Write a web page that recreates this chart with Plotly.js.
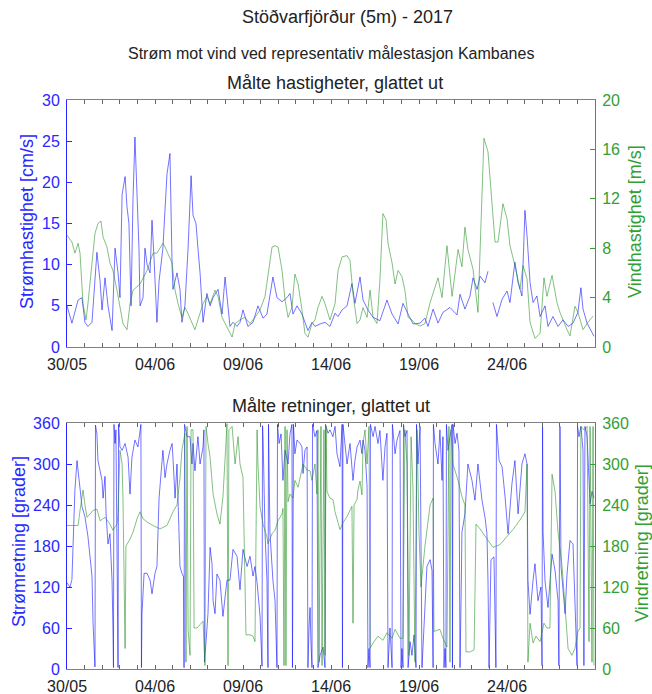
<!DOCTYPE html>
<html><head><meta charset="utf-8">
<script src="https://cdn.plot.ly/plotly-3.0.1.min.js"></script>
<style>html,body{margin:0;padding:0;background:#fff}</style>
</head><body><div id="chart" style="width:652px;height:694px"></div>
<script>
// time axis: days since 30/05/2017 00:00
const labelDays = [0,5,10,15,20,25];
const labelText = ['30/05','04/06','09/06','14/06','19/06','24/06'];
const nDays = 30;

// Current speed [cm/s]
const curSpdDay = [0.00,0.28,0.63,0.85,1.02,1.19,1.42,1.70,1.88,1.99,2.16,2.33,2.56,2.73,2.90,3.01,3.13,3.30,3.41,3.52,3.64,3.75,3.86,3.98,4.09,4.15,4.32,4.43,4.55,4.72,4.83,4.94,5.11,5.23,5.45,5.68,5.85,5.97,6.02,6.25,6.42,6.53,6.70,6.88,7.05,7.16,7.33,7.44,7.56,7.73,7.95,8.13,8.30,8.58,8.81,8.98,9.09,9.26,9.43,9.66,9.83,10.00,10.28,10.57,10.85,11.14,11.36,11.53,11.70,11.93,12.22,12.50,12.67,12.84,13.07,13.35,13.52,13.69,13.92,14.09,14.38,14.66,14.94,15.23,15.40,15.63,15.91,16.19,16.36,16.65,16.82,17.10,17.39,17.78,18.18,18.47,18.81,19.09,19.38,19.66,20.06,20.34,20.51,20.80,21.08,21.36,21.76,22.16,22.33,22.61,22.90,23.07,23.30,23.47,23.75,23.92,24.05,24.20,24.43,24.72,25.00,25.17,25.45,25.63,25.85,26.02,26.14,26.31,26.48,26.70,26.88,27.16,27.33,27.61,27.90,28.18,28.47,28.75,29.03,29.20,29.32,29.55,29.83,29.94];
const curSpd = [5.0,2.9,5.7,6.0,3.0,2.5,3.0,11.5,8.0,4.5,8.4,5.0,2.0,12.0,9.0,6.0,18.5,20.7,17.0,15.0,5.0,18.0,25.5,18.0,12.0,5.0,6.0,12.0,10.0,9.0,15.4,11.0,3.0,8.0,12.0,21.0,23.5,10.0,7.0,9.0,7.0,3.0,5.0,12.0,20.8,16.0,15.0,12.0,9.0,3.0,6.5,5.0,6.0,7.0,4.0,8.5,6.0,2.5,3.0,2.5,3.0,4.5,2.5,3.0,5.0,3.5,4.0,6.5,8.5,6.0,5.5,6.0,6.5,4.0,5.0,4.0,3.0,2.0,3.0,2.5,2.8,3.0,2.5,4.1,3.7,4.5,5.0,7.7,5.3,8.5,5.7,4.5,3.6,3.2,5.7,4.0,2.8,5.3,4.0,2.8,2.9,3.5,2.5,4.6,2.9,4.2,4.8,3.9,6.4,4.6,6.2,8.4,7.0,8.6,7.8,9.2,null,5.4,3.7,5.8,6.8,5.4,10.3,7.8,6.2,16.6,13.5,7.8,5.4,6.2,3.7,5.0,2.5,3.7,2.5,3.3,2.5,2.9,4.2,7.2,4.6,2.9,1.7,1.3];

// Wind speed [m/s]
const windSpdDay = [0.00,0.28,0.45,0.63,0.74,0.91,1.08,1.19,1.42,1.59,1.76,1.93,2.05,2.27,2.44,2.61,2.84,3.01,3.18,3.41,3.58,3.75,4.15,4.55,4.72,4.89,5.11,5.28,5.45,5.57,5.74,5.97,6.14,6.31,6.53,6.70,6.88,7.10,7.27,7.44,7.73,7.95,8.13,8.41,8.58,8.81,9.09,9.38,9.55,9.83,10.11,10.40,10.68,10.97,11.25,11.42,11.65,11.82,11.99,12.22,12.39,12.56,12.78,12.95,13.13,13.35,13.52,13.69,13.92,14.09,14.26,14.49,14.66,14.94,15.23,15.40,15.63,15.91,16.08,16.25,16.48,16.65,16.82,17.05,17.22,17.39,17.61,17.78,17.95,18.13,18.24,18.47,18.64,18.81,19.03,19.20,19.38,19.60,19.77,20.06,20.34,20.63,21.08,21.31,21.59,21.88,22.22,22.44,22.61,22.78,23.07,23.35,23.58,23.69,23.92,24.15,24.32,24.49,24.77,25.00,25.17,25.45,25.74,25.91,26.14,26.31,26.59,26.88,27.10,27.27,27.56,27.84,28.01,28.41,28.58,28.86,29.03,29.32,29.60,29.89];
const windSpd = [9.05,8.5,7.6,8.4,7.6,3.5,2.2,3.5,6.8,9.2,10.0,10.2,8.9,8.1,6.8,6.2,4.6,3.2,1.9,1.4,3.5,4.6,5.1,6.2,7.0,7.6,7.6,8.0,8.4,8.1,7.6,6.8,4.6,3.5,2.4,3.2,2.7,1.9,1.4,2.2,3.5,4.1,3.5,4.6,4.1,2.4,1.6,0.8,1.9,2.2,2.4,1.9,2.4,3.0,4.1,5.7,8.1,8.2,8.1,6.2,3.8,2.4,3.2,5.9,5.1,3.0,1.1,0.8,1.9,2.2,3.2,4.1,3.5,2.2,3.5,6.2,7.3,7.4,7.0,4.3,1.9,2.2,3.2,2.4,4.6,2.4,1.9,5.4,10.8,10.3,8.4,6.8,5.1,6.2,5.7,4.6,2.4,2.2,1.9,1.7,1.9,3.6,5.6,4.0,8.2,4.1,7.9,6.5,9.7,7.9,6.3,2.8,12.3,16.9,15.8,11.7,8.5,8.5,11.6,10.4,8.2,6.6,4.7,6.6,5.5,2.0,0.7,1.1,5.6,4.1,5.8,3.6,2.8,1.4,0.9,3.3,2.8,1.4,2.0,2.5];

// Current direction [grader]
const curDirDay = [0.00,0.17,0.28,0.45,0.57,0.74,0.85,1.02,1.19,1.42,1.48,1.59,1.62,1.70,1.76,1.88,1.99,2.05,2.16,2.22,2.27,2.33,2.44,2.50,2.56,2.61,2.64,2.67,2.73,2.78,2.84,2.90,2.93,3.01,3.13,3.30,3.47,3.58,3.69,3.86,4.03,4.15,4.20,4.23,4.26,4.38,4.55,4.72,4.83,5.00,5.11,5.23,5.40,5.45,5.57,5.68,5.85,5.97,6.02,6.14,6.25,6.42,6.53,6.62,6.65,6.68,6.82,6.99,7.10,7.16,7.27,7.39,7.44,7.56,7.73,7.78,7.81,7.90,8.01,8.13,8.24,8.30,8.41,8.52,8.69,8.86,9.09,9.26,9.43,9.66,9.83,10.00,10.23,10.40,10.57,10.68,10.80,10.97,11.08,11.11,11.14,11.25,11.36,11.42,11.45,11.53,11.65,11.70,11.82,11.93,11.96,12.05,12.16,12.27,12.39,12.56,12.67,12.78,12.81,12.87,12.95,13.07,13.24,13.35,13.41,13.52,13.64,13.69,13.75,13.81,13.86,13.92,13.95,14.09,14.20,14.26,14.38,14.55,14.66,14.69,14.83,14.94,15.11,15.23,15.34,15.51,15.63,15.65,15.68,15.80,15.91,16.08,16.25,16.36,16.48,16.65,16.76,16.82,16.93,17.05,17.10,17.16,17.22,17.24,17.39,17.50,17.67,17.78,17.95,18.07,18.18,18.24,18.35,18.47,18.49,18.64,18.75,18.92,18.98,19.03,19.09,19.12,19.20,19.32,19.38,19.49,19.60,19.72,19.83,19.86,19.94,20.06,20.17,20.28,20.45,20.63,20.74,20.80,20.82,20.91,21.08,21.19,21.31,21.36,21.42,21.48,21.53,21.56,21.65,21.76,21.88,21.90,21.93,22.05,22.16,22.27,22.33,22.39,22.44,22.61,22.78,23.01,23.18,23.35,23.58,23.75,23.86,23.92,23.98,24.09,24.26,24.37,24.40,24.55,24.72,24.89,25.06,25.28,25.45,25.63,25.85,26.02,26.14,26.19,26.31,26.48,26.59,26.76,26.93,26.99,27.02,27.05,27.16,27.33,27.56,27.73,27.90,27.95,28.01,28.07,28.18,28.30,28.41,28.58,28.75,28.86,28.98,29.01,29.09,29.20,29.32,29.37,29.43,29.55,29.72,29.83,29.94];
const curDir = [126,120,131,262,305,262,238,223,194,136,67,3,357,344,305,290,276,250,282,227,203,183,198,159,129,60,2,358,330,350,178,2,358,325,320,330,310,256,310,335,325,350,358,2,81,140,140,130,110,140,150,250,310,320,280,300,320,330,310,250,300,150,140,135,2,358,340,340,300,330,290,320,340,300,325,350,10,40,81,178,154,100,81,139,130,77,130,130,175,165,116,175,150,165,136,150,126,77,4,356,340,200,130,2,358,200,150,130,100,2,358,330,344,276,320,300,344,358,2,358,315,335,330,325,286,320,325,2,60,90,40,2,358,340,349,2,20,32,2,358,345,350,340,355,315,296,358,2,358,325,300,330,276,305,325,335,315,335,320,266,2,30,2,358,340,355,330,349,276,325,345,2,60,2,358,315,335,349,2,30,2,358,340,349,2,40,20,50,2,358,300,355,2,60,150,160,144,2,358,330,300,350,276,340,2,30,2,358,320,340,358,2,358,330,345,320,2,100,200,227,300,276,247,300,247,222,198,129,2,160,164,2,358,305,296,252,198,271,305,227,300,315,300,130,80,130,154,100,120,5,355,200,129,90,168,144,100,5,355,150,120,81,139,188,183,100,5,355,340,355,320,5,355,340,242,260,250];

// Wind direction [grader]
const windDirDay = [0.00,0.63,0.74,0.91,1.02,1.14,1.31,1.48,1.70,1.88,2.16,2.44,2.61,2.84,2.90,3.01,3.13,3.18,3.30,3.35,3.58,3.75,3.98,4.15,4.32,4.55,4.89,5.28,5.68,5.85,6.02,6.25,6.42,6.53,6.59,6.70,6.76,6.82,6.88,6.99,7.05,7.16,7.22,7.39,7.56,7.73,7.84,7.90,8.01,8.13,8.30,8.52,8.69,8.86,9.03,9.09,9.15,9.20,9.38,9.55,9.72,9.83,10.00,10.17,10.40,10.57,10.68,10.80,10.85,10.97,11.14,11.36,11.42,11.65,11.82,11.99,12.22,12.27,12.33,12.39,12.44,12.50,12.56,12.67,12.84,12.95,13.13,13.24,13.41,13.64,13.81,13.92,14.09,14.20,14.26,14.32,14.43,14.49,14.60,14.66,14.72,14.77,14.94,15.11,15.23,15.51,15.68,15.91,16.08,16.19,16.25,16.31,16.48,16.53,16.65,16.76,16.82,16.93,17.05,17.16,17.22,17.39,17.67,17.95,18.18,18.47,18.64,18.92,19.09,19.20,19.32,19.43,19.55,19.66,19.77,19.89,20.00,20.11,20.34,20.63,20.80,20.85,21.19,21.36,21.59,21.70,21.76,21.82,21.93,22.22,22.44,22.61,22.67,22.90,23.13,23.24,23.47,23.86,24.20,24.60,25.00,25.34,25.74,26.02,26.14,26.19,26.31,26.48,26.65,26.88,27.10,27.27,27.44,27.56,27.73,27.90,28.13,28.30,28.47,28.69,28.86,29.03,29.15,29.20,29.37,29.55,29.66,29.72,29.83,29.89,29.94];
const windDir = [210,210,232,262,240,222,227,232,234,217,222,212,203,212,227,320,300,250,30,180,190,200,220,230,220,215,210,205,210,220,230,240,280,320,330,345,10,355,58,20,350,350,60,60,65,70,5,355,330,310,256,227,212,252,330,359,5,350,355,300,340,300,280,50,50,48,40,350,300,237,212,193,183,198,203,217,227,235,5,355,5,350,245,256,250,276,266,280,300,291,290,276,300,256,350,10,355,5,350,20,355,260,250,248,230,204,214,223,233,238,67,240,248,262,275,255,330,350,300,355,30,38,48,42,53,45,58,45,45,350,300,20,340,260,10,350,200,120,180,240,250,55,58,45,32,355,10,350,300,276,252,240,25,25,28,212,205,190,178,182,194,204,218,230,300,10,67,38,48,40,67,60,60,285,260,200,150,90,30,20,30,55,60,355,350,355,40,355,10,355,5];

const BLUE = 'rgb(40,40,255)';
const GREEN = 'rgb(50,160,50)';
const BLUE_LINE = 'rgba(0,0,255,0.55)';
const GREEN_LINE = 'rgba(30,140,30,0.55)';
const FONT = 'Liberation Sans, Arial, sans-serif';

const tickVals = [], tickText = [];
for (let d = 0; d <= nDays; d++) {
  tickVals.push(d);
  const i = labelDays.indexOf(d);
  tickText.push(i >= 0 ? labelText[i] : '');
}

const traces = [
  {x: curSpdDay, y: curSpd, xaxis: 'x', yaxis: 'y', mode: 'lines', line: {color: BLUE_LINE, width: 1}, hoverinfo: 'skip'},
  {x: windSpdDay, y: windSpd, xaxis: 'x', yaxis: 'y2', mode: 'lines', line: {color: GREEN_LINE, width: 1}, hoverinfo: 'skip'},
  {x: curDirDay, y: curDir, xaxis: 'x2', yaxis: 'y3', mode: 'lines', line: {color: BLUE_LINE, width: 1}, hoverinfo: 'skip'},
  {x: windDirDay, y: windDir, xaxis: 'x2', yaxis: 'y4', mode: 'lines', line: {color: GREEN_LINE, width: 1}, hoverinfo: 'skip'}
];

function xAxis(anchor) {
  return {anchor: anchor, domain: [0, 1], range: [0, nDays], tickmode: 'array', tickvals: tickVals, ticktext: tickText,
    ticks: 'inside', ticklen: 4, tickcolor: '#666', showline: true, linecolor: '#808080', linewidth: 1, mirror: 'ticks',
    showgrid: false, zeroline: false, tickfont: {size: 16, color: '#222', family: FONT}, ticklabelstandoff: 3,
    fixedrange: true};
}
function yAxis(dom, rng, dt, color, side, overlay, anchor) {
  const a = {range: rng, dtick: dt, tick0: 0, ticks: 'inside', ticklen: 5, tickcolor: color, showline: true, linecolor: color,
    linewidth: 1, showgrid: false, zeroline: false, tickfont: {size: 16, color: color, family: FONT}, side: side,
    anchor: anchor, ticklabelstandoff: 3, fixedrange: true};
  if (dom) a.domain = dom;
  if (overlay) a.overlaying = overlay;
  return a;
}

const H = 569, W = 528, T = 100, L = 67;
const py = p => (T + H - p) / H;
const px = p => (p - L) / W;

const annotations = [
  {text: 'Stöðvarfjörður (5m) - 2017', x: px(347), y: py(17), size: 18},
  {text: 'Strøm mot vind ved representativ målestasjon Kambanes', x: px(331), y: py(53), size: 16},
  {text: 'Målte hastigheter, glattet ut', x: px(335), y: py(83), size: 18},
  {text: 'Målte retninger, glattet ut', x: px(331), y: py(406), size: 18}
].map(a => ({text: a.text, x: a.x, y: a.y, xref: 'paper', yref: 'paper', xanchor: 'center', yanchor: 'middle',
  showarrow: false, font: {size: a.size, color: '#222', family: FONT}}));

[
  {text: 'Strømhastighet [cm/s]', x: px(27), y: py(222), c: BLUE},
  {text: 'Vindhastighet [m/s]', x: px(635), y: py(222), c: GREEN},
  {text: 'Strømretning [grader]', x: px(19), y: py(542), c: BLUE},
  {text: 'Vindretning [grader]', x: px(642), y: py(543), c: GREEN}
].forEach(a => annotations.push({text: a.text, x: a.x, y: a.y, xref: 'paper', yref: 'paper', xanchor: 'center',
  yanchor: 'middle', textangle: -90, showarrow: false, font: {size: 18, color: a.c, family: FONT}}));

const layout = {
  width: 652, height: 694,
  margin: {l: L, r: 652 - 595, t: T, b: 694 - 669, pad: 0},
  paper_bgcolor: '#fff', plot_bgcolor: '#fff',
  showlegend: false,
  font: {family: FONT, size: 16, color: '#222'},
  xaxis: xAxis('y'),
  xaxis2: xAxis('y3'),
  yaxis: yAxis([py(347), 1], [0, 30], 5, BLUE, 'left', null, 'x'),
  yaxis2: yAxis(null, [0, 20], 4, GREEN, 'right', 'y', 'x'),
  yaxis3: yAxis([0, py(423)], [0, 360], 60, BLUE, 'left', null, 'x2'),
  yaxis4: yAxis(null, [0, 360], 60, GREEN, 'right', 'y3', 'x2'),
  annotations: annotations
};

Plotly.newPlot('chart', traces, layout, {displayModeBar: false, staticPlot: true});
</script></body></html>
